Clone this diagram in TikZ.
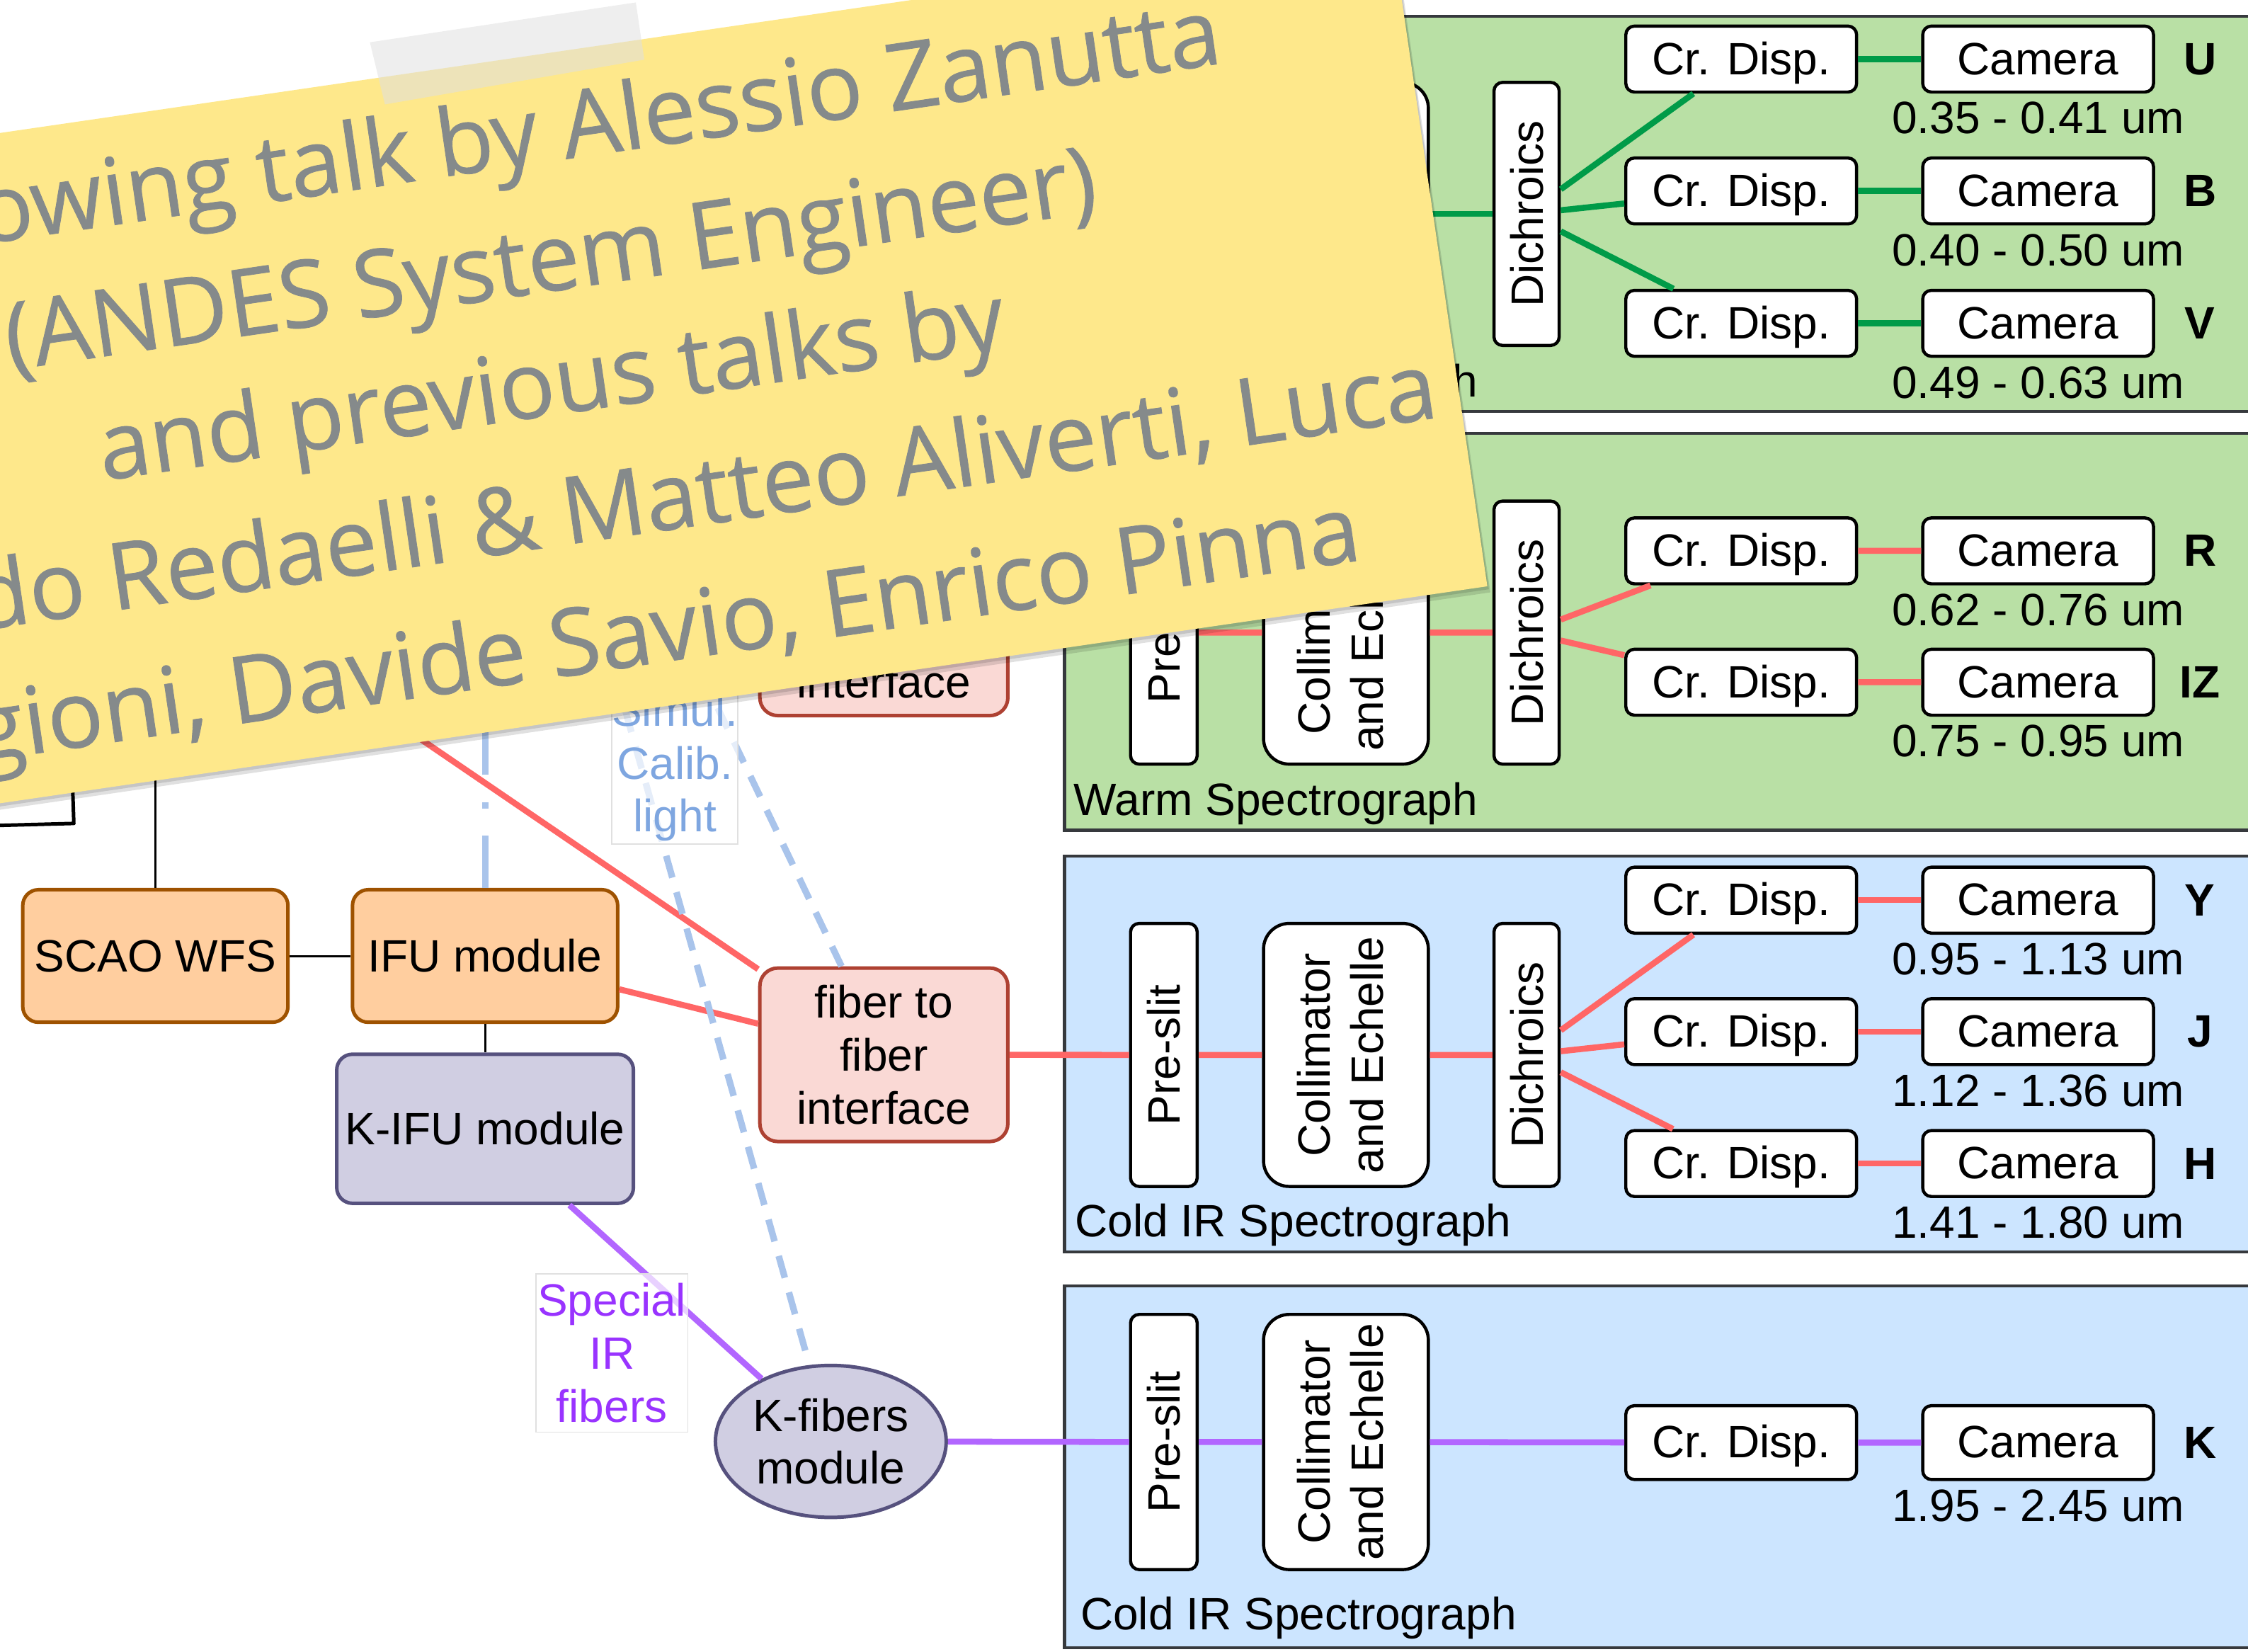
\documentclass[tikz,border=0pt]{standalone}
\usepackage{graphicx}
\usepackage{fontspec}
\setmainfont{Liberation Sans}
\newfontfamily\notefont[FakeBold=0.6]{Open Sans}
\usetikzlibrary{calc,shapes.geometric}

\definecolor{warmfill}{HTML}{B9E0A5}
\definecolor{coldfill}{HTML}{CCE5FF}
\definecolor{specline}{HTML}{36393D}
\definecolor{greenray}{HTML}{009B48}
\definecolor{redray}{HTML}{FF6666}
\definecolor{kray}{HTML}{B266FF}
\definecolor{calibray}{HTML}{A9C4EB}
\definecolor{calibtext}{HTML}{7EA6E0}
\definecolor{ktext}{HTML}{9933FF}
\definecolor{aofill}{HTML}{FFCE9F}
\definecolor{aoline}{HTML}{9E5200}
\definecolor{fibfill}{HTML}{FAD9D5}
\definecolor{fibline}{HTML}{AE4132}
\definecolor{kfill}{HTML}{D0CEE2}
\definecolor{kline}{HTML}{56517E}
\definecolor{notefill}{HTML}{FEE88B}
\definecolor{notetext}{HTML}{858A8B}
\definecolor{tapefill}{HTML}{E0E0E0}

\begin{document}
\begin{tikzpicture}[x=0.02cm, y=-0.02cm,
    font=\fontsize{18}{21}\selectfont,
    spec/.style={draw=specline, line width=1.25pt},
    part/.style={draw, fill=white, line width=1.25pt, rounded corners=0.12cm, inner sep=0pt, align=center},
    disp/.style={part, minimum width=3.22cm, minimum height=0.92cm, text height=16pt, text depth=3.8pt},
    slit/.style={part, minimum width=0.93cm, minimum height=3.67cm},
    collim/.style={part, minimum width=2.3cm, minimum height=3.67cm, rounded corners=0.36cm},
    dich/.style={part, minimum width=0.91cm, minimum height=3.67cm},
    band/.style={font=\fontsize{18}{21}\selectfont\bfseries},
    wl/.style={anchor=base, inner sep=0pt},
    module/.style={draw, line width=1.4pt, rounded corners=0.22cm, minimum height=1.85cm, inner sep=0pt, align=center},
    ao/.style={module, draw=aoline, fill=aofill, minimum width=3.7cm},
    fib/.style={module, draw=fibline, fill=fibfill, minimum width=3.46cm, minimum height=2.42cm, rounded corners=0.25cm},
    warmpath/.style={draw=greenray, line width=2.4pt},
    redpath/.style={draw=redray, line width=2.4pt},
    kpath/.style={draw=kray, line width=2.4pt},
    wire/.style={draw=black, line width=0.8pt},
    calib/.style={draw=calibray, line width=2.6pt, dash pattern=on 9pt off 6pt},
    calibv/.style={draw=calibray, line width=2.5pt, dash pattern=on 20.7pt off 10.8pt on 2.55pt off 10.8pt},
    tag/.style={draw=black!12, fill=white, fill opacity=0.7, text opacity=1, align=center, inner sep=0pt},
    notetxt/.style={font=\notefont\fontsize{37}{44}\selectfont, text=notetext, anchor=base east, inner sep=0pt}
  ]
  \useasboundingbox (0,0) rectangle (1568,1152);
  \clip (0,0) rectangle (1568,1152);

  % warm spectrograph, U B V
  \draw[spec, fill=warmfill] (742.6,11.3) rectangle (1620,287);
  \node[slit] (w1pre) at (811.8,149.2) {};
  \node[collim] (w1col) at (938.8,149.2) {};
  \node[dich] (w1dic) at (1064.8,149.2) {\rotatebox{90}{Dichroics}};
  \node[disp] (crU) at (1214.5,41.2) {Cr. Disp.};
  \node[disp] (crB) at (1214.5,133.2) {Cr. Disp.};
  \node[disp] (crV) at (1214.5,225.5) {Cr. Disp.};
  \node[disp] (camU) at (1421.6,41.2) {Camera};
  \node[disp] (camB) at (1421.6,133.2) {Camera};
  \node[disp] (camV) at (1421.6,225.5) {Camera};
  \node[band] at (1534.5,41.2) {U};
  \node[band] at (1534.5,133.2) {B};
  \node[band] at (1534.5,225.5) {V};
  \node[wl] at ($(camU.south)+(0,28)$) {0.35 - 0.41 um};
  \node[wl] at ($(camB.south)+(0,28)$) {0.40 - 0.50 um};
  \node[wl] at ($(camV.south)+(0,28)$) {0.49 - 0.63 um};
  \node[anchor=base west, inner sep=0pt] at (748.5,276.8) {Warm Spectrograph};

  % warm spectrograph, R IZ
  \draw[spec, fill=warmfill] (742.6,302.3) rectangle (1620,579);
  \node[slit] (w2pre) at (811.8,441.2) {\rotatebox{90}{Pre-slit}};
  \node[collim] (w2col) at (938.8,441.2) {\rotatebox{90}{\begin{tabular}{@{}c@{}}Collimator\\and Echelle\end{tabular}}};
  \node[dich] (w2dic) at (1064.8,441.2) {\rotatebox{90}{Dichroics}};
  \node[disp] (crR) at (1214.5,384.2) {Cr. Disp.};
  \node[disp] (crIZ) at (1214.5,475.8) {Cr. Disp.};
  \node[disp] (camR) at (1421.6,384.2) {Camera};
  \node[disp] (camIZ) at (1421.6,475.8) {Camera};
  \node[band] at (1534.5,384.2) {R};
  \node[band] at (1534.5,475.8) {IZ};
  \node[wl] at ($(camR.south)+(0,28)$) {0.62 - 0.76 um};
  \node[wl] at ($(camIZ.south)+(0,28)$) {0.75 - 0.95 um};
  \node[anchor=base west, inner sep=0pt] at (748.5,568.8) {Warm Spectrograph};

  % cold IR spectrograph, Y J H
  \draw[spec, fill=coldfill] (742.6,597.2) rectangle (1620,873.2);
  \node[slit] (c1pre) at (811.8,735.75) {\rotatebox{90}{Pre-slit}};
  \node[collim] (c1col) at (938.8,735.75) {\rotatebox{90}{\begin{tabular}{@{}c@{}}Collimator\\and Echelle\end{tabular}}};
  \node[dich] (c1dic) at (1064.8,735.75) {\rotatebox{90}{Dichroics}};
  \node[disp] (crY) at (1214.5,627.8) {Cr. Disp.};
  \node[disp] (crJ) at (1214.5,719.5) {Cr. Disp.};
  \node[disp] (crH) at (1214.5,811.5) {Cr. Disp.};
  \node[disp] (camY) at (1421.6,627.8) {Camera};
  \node[disp] (camJ) at (1421.6,719.5) {Camera};
  \node[disp] (camH) at (1421.6,811.5) {Camera};
  \node[band] at (1534.5,627.8) {Y};
  \node[band] at (1534.5,719.5) {J};
  \node[band] at (1534.5,811.5) {H};
  \node[wl] at ($(camY.south)+(0,28)$) {0.95 - 1.13 um};
  \node[wl] at ($(camJ.south)+(0,28)$) {1.12 - 1.36 um};
  \node[wl] at ($(camH.south)+(0,28)$) {1.41 - 1.80 um};
  \node[anchor=base west, inner sep=0pt] at (749.6,862.3) {Cold IR Spectrograph};

  % cold IR spectrograph, K
  \draw[spec, fill=coldfill] (742.6,896.8) rectangle (1620,1149.1);
  \node[slit, minimum height=3.56cm] (c2pre) at (811.8,1005.7) {\rotatebox{90}{Pre-slit}};
  \node[collim, minimum height=3.56cm] (c2col) at (938.8,1005.7) {\rotatebox{90}{\begin{tabular}{@{}c@{}}Collimator\\and Echelle\end{tabular}}};
  \node[disp, minimum height=1.03cm] (crK) at (1214.5,1006.1) {Cr. Disp.};
  \node[disp, minimum height=1.03cm] (camK) at (1421.6,1006.1) {Camera};
  \node[band] at (1534.5,1006.1) {K};
  \node[wl] at ($(camK.south)+(0,28)$) {1.95 - 2.45 um};
  \node[anchor=base west, inner sep=0pt] at (753.3,1136.4) {Cold IR Spectrograph};

  % front end
  \node[ao] (scao) at (108.35,666.75) {SCAO WFS};
  \node[ao] (ifu) at (338.35,666.75) {IFU module};
  \node[module, draw=kline, fill=kfill, minimum width=4.14cm, minimum height=2.08cm] (kifu) at (338.35,787.25) {K-IFU module};
  \node[fib] (fibA) at (616.5,438.6) {fiber to\\fiber\\interface};
  \node[fib] (fibB) at (616.5,735.65) {fiber to\\fiber\\interface};
  \node[ellipse, draw=kline, fill=kfill, line width=1.4pt, minimum width=3.22cm, minimum height=2.12cm, inner sep=0pt, align=center] (kfib) at (579.5,1005.3) {K-fibers\\module};

  \coordinate (aoup) at (108.35,480);
  \coordinate (calibV) at (338.35,470);
  \coordinate (calibA) at (489.2,470);
  \coordinate (calibB) at (429,470);
  \coordinate (redsrc) at (226.7,470);
  \coordinate (greensrc) at (700,149.2);

  % light paths
  \draw[warmpath] (greensrc) -- (w1pre) (w1pre) -- (w1col) (w1col) -- (w1dic);
  \draw[warmpath] (w1dic) -- (crU) (w1dic) -- (crB) (w1dic) -- (crV);
  \draw[warmpath] (crU) -- (camU) (crB) -- (camB) (crV) -- (camV);
  \draw[redpath] (fibA) -- (w2pre) (w2pre) -- (w2col) (w2col) -- (w2dic);
  \draw[redpath] (w2dic) -- (crR) (w2dic) -- (crIZ) (crR) -- (camR) (crIZ) -- (camIZ);
  \draw[redpath] (fibB) -- (c1pre) (c1pre) -- (c1col) (c1col) -- (c1dic);
  \draw[redpath] (c1dic) -- (crY) (c1dic) -- (crJ) (c1dic) -- (crH);
  \draw[redpath] (crY) -- (camY) (crJ) -- (camJ) (crH) -- (camH);
  \draw[redpath] (ifu) -- (fibB) (redsrc) -- (fibB);
  \draw[kpath] (kifu) -- (kfib) (kfib) -- (c2pre) (c2pre) -- (c2col) (c2col) -- (crK) (crK) -- (camK);
  \draw[wire] (scao) -- (ifu) (ifu) -- (kifu) (scao) -- (aoup);
  \draw[calibv] (ifu) -- (calibV);
  \draw[calib] (calibA) -- (fibB) (calibB) -- (kfib);

  \node[tag, text=ktext, minimum width=2.12cm, minimum height=2.21cm] (irtag) at (426.8,943.6) {Special\\IR\\fibers};
  \node[tag, text=calibtext, minimum width=1.73cm, inner ysep=1pt] (calibtag) at (470.7,535.2) {Simul.\\Calib.\\light};

  \draw[line width=1.4pt, line join=round, line cap=round] (-5,575.8) -- (51.5,574.3) -- (50.2,535);

  % sticky note
  \begin{scope}[shift={(1037.4,408.9)}, rotate=8.3, transform shape]
    \fill[black, opacity=0.12] (-1300,-455) rectangle (1.5,4.5);
    \fill[black, opacity=0.12] (-1300,-455) rectangle (0.8,2.2);
    \fill[notefill] (-1300,-462.6) rectangle (0,0);
    \node[notetxt] at (-128.8,-387.6) {owing talk by Alessio Zanutta};
    \node[notetxt] at (-229.3,-297.9) {(ANDES System Engineer)};
    \node[notetxt] at (-306.6,-212.3) {and previous talks by};
    \node[notetxt] at (-15.2,-121.4) {do Redaelli \& Matteo Aliverti, Luca};
    \node[notetxt] at (-82.6,-30.7) {gioni, Davide Savio, Enrico Pinna};
  \end{scope}
  \fill[tapefill, opacity=0.55] (258,29.5) -- (443.5,1.7) -- (449.4,41.6) -- (268.5,72.8) -- cycle;
\end{tikzpicture}
\end{document}
